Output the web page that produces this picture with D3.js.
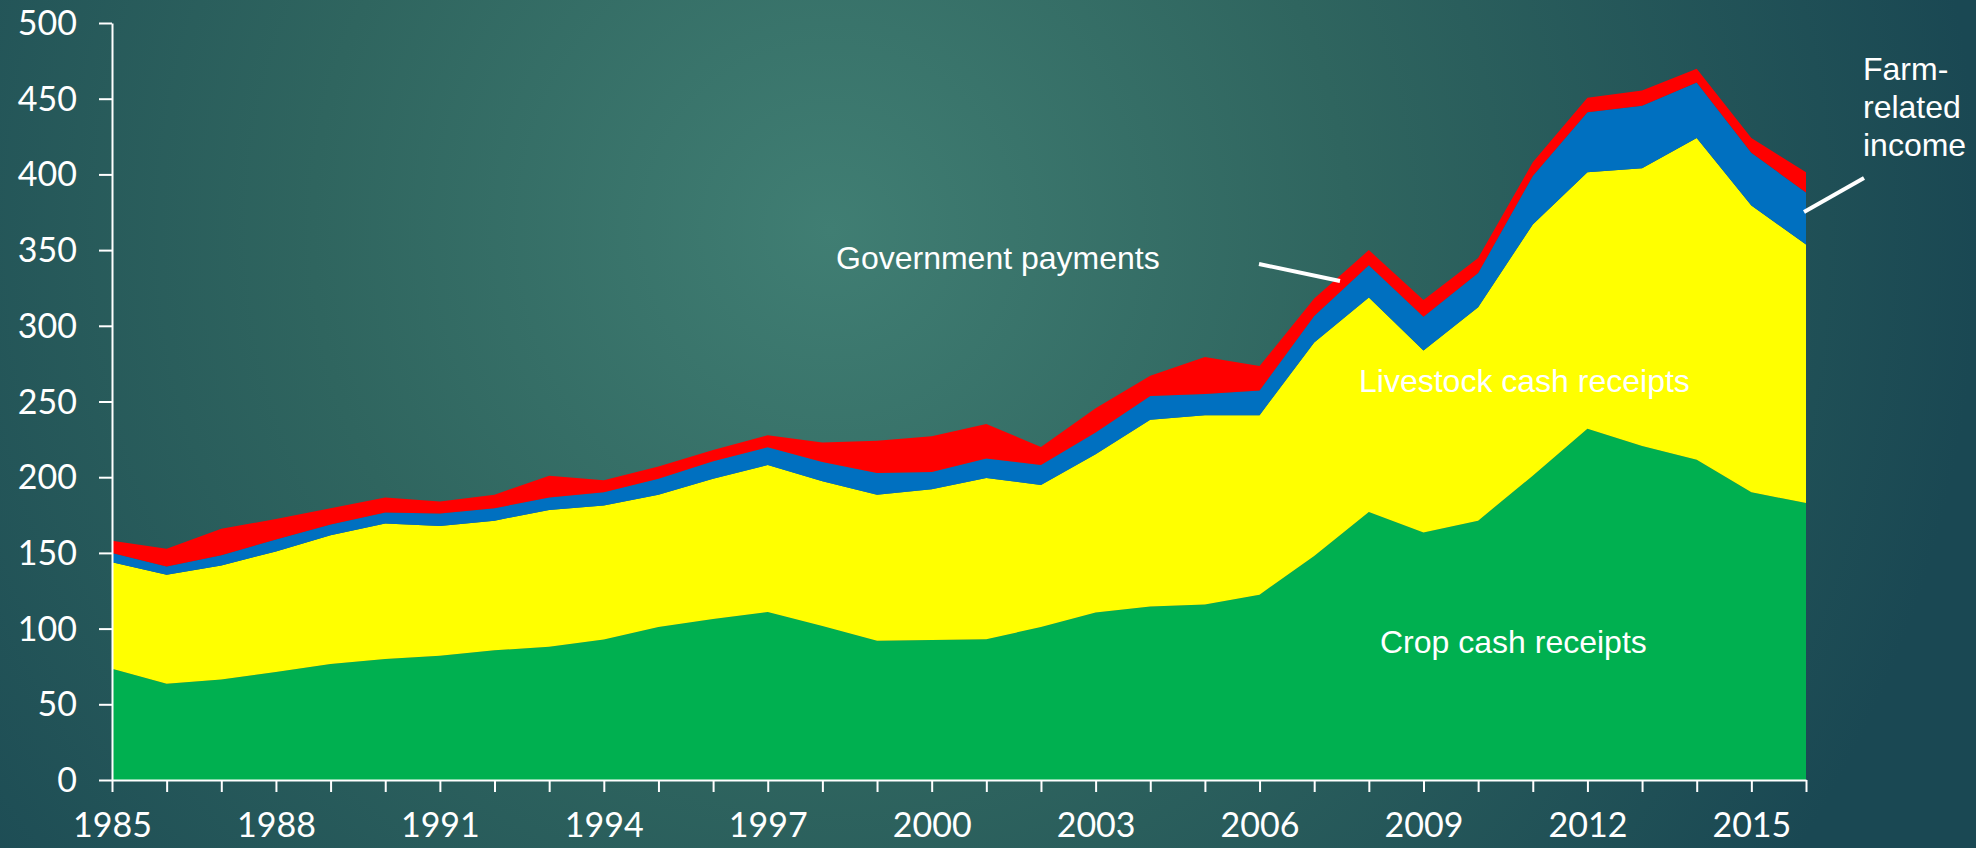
<!DOCTYPE html>
<html>
<head>
<meta charset="utf-8">
<script src="https://cdnjs.cloudflare.com/ajax/libs/d3/7.8.5/d3.min.js"></script>
<style>
  html, body { margin: 0; padding: 0; overflow: hidden; }
  #chart { width: 1976px; height: 848px; }
  .axis path, .axis line { stroke: #fff; stroke-width: 2; }
  .axis text { fill: #fff; font-family: "Lato", "DejaVu Sans", sans-serif; font-size: 34px; }
  .note { fill: #fff; font-family: "Liberation Sans", Arial, sans-serif; font-size: 32px; }
</style>
</head>
<body>
<div id="chart"></div>
<script>
const years = d3.range(1985, 2017);
const yTicks = [0, 50, 100, 150, 200, 250, 300, 350, 400, 450, 500];
const xLabelYears = [1985, 1988, 1991, 1994, 1997, 2000, 2003, 2006, 2009, 2012, 2015];

const seriesNames = ["Crop cash receipts", "Livestock cash receipts", "Farm-related income", "Government payments"];
const seriesColors = ["#00b050", "#ffff00", "#0070c0", "#ff0000"];

// billion dollars
const crop = [73.5, 63.5, 66.4, 71.4, 76.7, 80, 82, 85.7, 88, 92.8, 101, 106.4, 111, 101.7, 92, 92.4,
  93, 101, 110.6, 114.6, 116, 122.4, 148, 177, 163.5, 171.3, 201, 232, 220.6, 211.6, 190, 183];
const livestock = [70.3, 72.1, 75.3, 79.6, 85, 89.5, 85.7, 85.6, 90.4, 88.5, 87.4, 92.6, 97, 95.7, 96.4, 99.6,
  106.5, 93.9, 104.6, 123.4, 125, 118.6, 141, 141.7, 120.2, 141, 165.9, 169.5, 183.4, 212.4, 189.4, 170.7];
const farmRelated = [6.2, 5.4, 6.8, 7.8, 7.1, 7.2, 8.3, 8.2, 8.2, 8.7, 10.6, 11.6, 11.8, 12.6, 14.3, 11.4,
  12.8, 13.1, 14.3, 15.7, 14, 16.3, 17.5, 21.3, 22.3, 22.5, 32.1, 39.5, 41.4, 36.7, 34.9, 34.3];
const government = [8, 11.7, 17.5, 13.6, 10.7, 9.9, 8, 8.9, 14.4, 8, 8, 7.4, 7.9, 13, 21.3, 23.6,
  22.9, 12, 16, 13.3, 24.4, 16.1, 11.5, 10, 11, 10, 9, 9.7, 10, 9, 9.7, 13.5];

const width = 1976, height = 848;
const margin = { top: 23, right: 170, bottom: 68, left: 112 };

const table = years.map((y, i) => ({
  year: y,
  [seriesNames[0]]: crop[i],
  [seriesNames[1]]: livestock[i],
  [seriesNames[2]]: farmRelated[i],
  [seriesNames[3]]: government[i]
}));

const svg = d3.select("#chart").append("svg")
  .attr("width", width)
  .attr("height", height);

const defs = svg.append("defs");
const grad = defs.append("radialGradient")
  .attr("id", "bg")
  .attr("gradientUnits", "userSpaceOnUse")
  .attr("cx", 830).attr("cy", 230).attr("r", 1150);
grad.append("stop").attr("offset", "0%").attr("stop-color", "#407e73");
grad.append("stop").attr("offset", "45%").attr("stop-color", "#2f655f");
grad.append("stop").attr("offset", "100%").attr("stop-color", "#1a4853");

svg.append("rect").attr("width", width).attr("height", height).attr("fill", "url(#bg)");

const x = d3.scaleLinear()
  .domain([1985, 2016])
  .range([margin.left, width - margin.right]);

const y = d3.scaleLinear()
  .domain([0, 500])
  .range([height - margin.bottom, margin.top]);

const stack = d3.stack().keys(seriesNames);
const layers = stack(table);

const area = d3.area()
  .x(d => x(d.data.year))
  .y0(d => y(d[0]))
  .y1(d => y(d[1]));

svg.append("g")
  .selectAll("path")
  .data(layers)
  .join("path")
  .attr("fill", (d, i) => seriesColors[i])
  .attr("d", area);

svg.append("g")
  .attr("class", "axis")
  .attr("transform", `translate(0,${y(0)})`)
  .call(d3.axisBottom(x)
    .tickValues(years)
    .tickSize(12)
    .tickSizeOuter(0)
    .tickPadding(21)
    .tickFormat(d => xLabelYears.includes(d) ? String(d) : ""))
  .call(g => g.selectAll("text").attr("dy", "0.71em"));

svg.append("g")
  .attr("class", "axis")
  .attr("transform", `translate(${margin.left},0)`)
  .call(d3.axisLeft(y)
    .tickValues(yTicks)
    .tickSize(13)
    .tickSizeOuter(0)
    .tickPadding(22))
  .call(g => g.selectAll("text").attr("dy", "0.34em"));

// labels
svg.append("text").attr("class", "note").attr("x", 836).attr("y", 269).text("Government payments");
svg.append("text").attr("class", "note").attr("x", 1359).attr("y", 392).text("Livestock cash receipts");
svg.append("text").attr("class", "note").attr("x", 1380).attr("y", 653).text("Crop cash receipts");

const farm = svg.append("text").attr("class", "note").attr("x", 1863).attr("y", 80);
["Farm-", "related", "income"].forEach((t, i) => {
  farm.append("tspan").attr("x", 1863).attr("dy", i === 0 ? 0 : 38).text(t);
});

svg.append("line")
  .attr("x1", 1259).attr("y1", 264).attr("x2", 1340).attr("y2", 281)
  .attr("stroke", "#fff").attr("stroke-width", 4);
svg.append("line")
  .attr("x1", 1864).attr("y1", 178).attr("x2", 1804).attr("y2", 212)
  .attr("stroke", "#fff").attr("stroke-width", 4);
</script>
</body>
</html>
